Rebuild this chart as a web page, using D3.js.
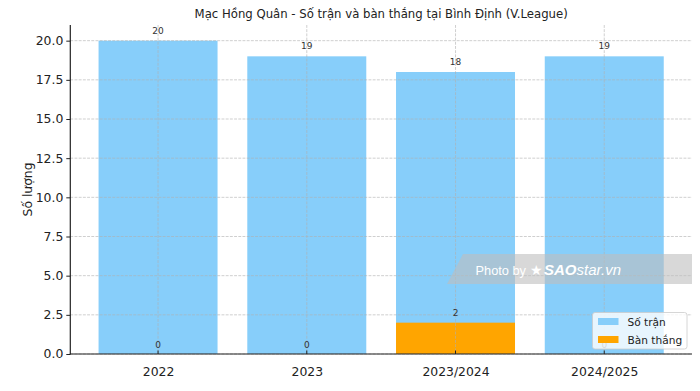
<!DOCTYPE html>
<html>
<head>
<meta charset="utf-8">
<script src="https://cdn.jsdelivr.net/npm/d3@7"></script>
<style>
html,body{margin:0;padding:0;background:#fff;}
svg{display:block;font-family:"DejaVu Sans",sans-serif;}
</style>
</head>
<body>
<svg id="chart" width="700" height="391"></svg>
<script>
const categories = ["2022", "2023", "2023/2024", "2024/2025"];
const soTran = [20, 19, 18, 19];
const banThang = [0, 0, 2, 0];
const yTicks = [0, 2.5, 5, 7.5, 10, 12.5, 15, 17.5, 20];
const seriesNames = ["Số trận", "Bàn thắng"];
const seriesColors = ["#87CEFA", "#FFA500"];
const title = "Mạc Hồng Quân - Số trận và bàn thắng tại Bình Định (V.League)";
const yLabel = "Số lượng";

const svg = d3.select("#chart");
const L = 70.3, R = 692, T = 25, B = 354;
const barW = 0.8;
const x = d3.scaleLinear().domain([-0.59, categories.length - 1 + 0.59]).range([L, R]);
const y = d3.scaleLinear().domain([0, 21]).range([B, T]);

// bars
const g = svg.append("g");
g.selectAll("rect.tran").data(soTran).enter().append("rect")
  .attr("x", (d, i) => x(i - barW / 2)).attr("width", x(barW) - x(0))
  .attr("y", d => y(d)).attr("height", d => y(0) - y(d))
  .attr("fill", seriesColors[0]);
g.selectAll("rect.ban").data(banThang).enter().append("rect")
  .attr("x", (d, i) => x(i - barW / 2)).attr("width", x(barW) - x(0))
  .attr("y", d => y(d)).attr("height", d => y(0) - y(d))
  .attr("fill", seriesColors[1]);

// grid (drawn over bars)
const grid = svg.append("g").attr("stroke", "#b0b0b0").attr("stroke-width", 0.8)
  .attr("stroke-dasharray", "2.9,1.3").attr("opacity", 0.75);
yTicks.forEach(t => grid.append("line").attr("x1", L).attr("x2", R).attr("y1", y(t)).attr("y2", y(t)));
categories.forEach((c, i) => grid.append("line").attr("x1", x(i)).attr("x2", x(i)).attr("y1", T).attr("y2", B));

// value labels
const lab = svg.append("g").attr("font-size", 9).attr("fill", "#333").attr("text-anchor", "middle");
soTran.forEach((v, i) => lab.append("text").attr("x", x(i)).attr("y", y(v) - 7).text(v));
banThang.forEach((v, i) => lab.append("text").attr("x", x(i)).attr("y", y(v) - 6.5).text(v));

// axes
const yAxis = d3.axisLeft(y).tickValues(yTicks).tickFormat(d3.format(".1f")).tickSize(4).tickPadding(3);
const ya = svg.append("g").attr("transform", `translate(${L},0)`).call(yAxis);
ya.select(".domain").remove();
ya.selectAll("text").attr("font-size", 12.4).attr("font-family", "DejaVu Sans").attr("fill", "#222");
ya.selectAll("line").attr("stroke", "#222");

const xAxis = d3.axisBottom(x).tickValues(categories.map((c, i) => i)).tickFormat(i => categories[i]).tickSize(0).tickPadding(13.5);
const xa = svg.append("g").attr("transform", `translate(0,${B})`).call(xAxis);
xa.select(".domain").remove();
xa.selectAll("text").attr("font-size", 12.4).attr("font-family", "DejaVu Sans").attr("fill", "#222");
categories.forEach((c, i) => svg.append("line").attr("x1", x(i)).attr("x2", x(i)).attr("y1", B - 3.5).attr("y2", B).attr("stroke", "#222").attr("stroke-width", 1));

svg.append("line").attr("x1", L).attr("x2", L).attr("y1", T).attr("y2", B + 0.5).attr("stroke", "#222").attr("stroke-width", 1.2);
svg.append("line").attr("x1", L - 0.5).attr("x2", R).attr("y1", B).attr("y2", B).attr("stroke", "#222").attr("stroke-width", 1.2);

// title & y label
svg.append("text").attr("x", (L + R) / 2).attr("y", 18).attr("text-anchor", "middle")
  .attr("font-size", 11.7).attr("fill", "#222").text(title);
svg.append("text").attr("transform", `translate(32,${(T + B) / 2 + 0}) rotate(-90)`).attr("text-anchor", "middle")
  .attr("font-size", 12.4).attr("fill", "#222").text(yLabel);

// watermark
const wm = svg.append("g");
wm.append("polygon").attr("points", "463,254 692,254 692,284 447,284").attr("fill", "rgb(190,190,190)").attr("opacity", 0.6);
const wt = wm.append("text").attr("y", 275).attr("fill", "#fff").attr("font-family", "Liberation Sans, Arial, sans-serif").attr("font-size", 12.8);
wt.append("tspan").attr("x", 475.5).text("Photo by ");
wm.append("text").attr("x", 530).attr("y", 275).attr("fill", "#fff").attr("font-family", "DejaVu Sans").attr("font-size", 14).attr("font-style", "italic").text("★");
const wt2 = wm.append("text").attr("x", 544).attr("y", 275).attr("fill", "#fff").attr("font-family", "Liberation Sans, Arial, sans-serif").attr("font-size", 15).attr("font-style", "italic");
wt2.append("tspan").attr("font-weight", "bold").text("SAO");
wt2.append("tspan").text("star.vn");

// legend
const lg = svg.append("g");
lg.append("rect").attr("x", 592.5).attr("y", 312.5).attr("width", 94.5).attr("height", 36.5).attr("rx", 2.5)
  .attr("fill", "#fff").attr("fill-opacity", 0.8).attr("stroke", "#ccc").attr("stroke-width", 0.8);
seriesNames.forEach((n, i) => {
  lg.append("rect").attr("x", 598).attr("y", 318 + i * 18).attr("width", 20.5).attr("height", 7).attr("fill", seriesColors[i]);
  lg.append("text").attr("x", 627.5).attr("y", 325.5 + i * 18).attr("font-size", 10.6).attr("fill", "#222").text(n);
});
</script>
</body>
</html>
